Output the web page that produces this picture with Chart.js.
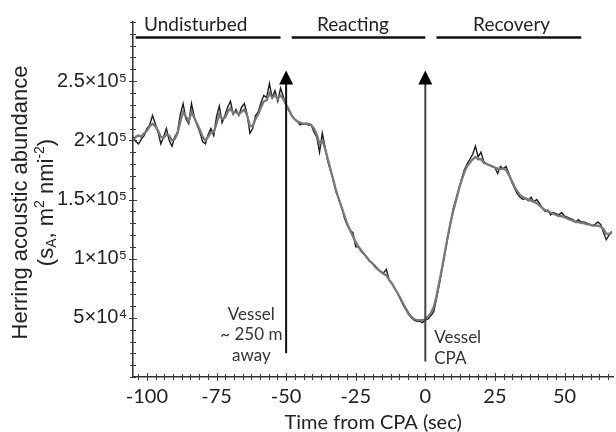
<!DOCTYPE html>
<html><head><meta charset="utf-8">
<script src="https://cdn.jsdelivr.net/npm/chart.js@4.4.1/dist/chart.umd.min.js"></script>
<style>html,body{margin:0;padding:0;background:#fff}#wrap{width:616px;height:432px;position:relative}</style>
</head><body><div id="wrap"><canvas id="c" width="616" height="432"></canvas></div>
<script>
// ---- data (values in thousands of s_A units) ----
const UNIT = 1000;
const times = [
-105,-104,-103,-102,-101,-100,-99,-98,-97,-96,
-95,-94,-93,-92,-91,-90,-89,-88,-87,-86,
-85,-84,-83,-82,-81,-80,-79,-78,-77,-76,
-75,-74,-73,-72,-71,-70,-69,-68,-67,-66,
-65,-64,-63,-62,-61,-60,-59,-58,-57,-56,
-55,-54,-53,-52,-51,-50,-49,-48,-47,-46,
-45,-44,-43,-42,-41,-40,-39,-38,-37,-36,
-35,-34,-33,-32,-31,-30,-29,-28,-27,-26,
-25,-24,-23,-22,-21,-20,-19,-18,-17,-16,
-15,-14,-13,-12,-11,-10,-9,-8,-7,-6,
-5,-4,-3,-2,-1,0,1,2,3,4,
5,6,7,8,9,10,11,12,13,14,
15,16,17,18,19,20,21,22,23,24,
25,26,27,28,29,30,31,32,33,34,
35,36,37,38,39,40,41,42,43,44,
45,46,47,48,49,50,51,52,53,54,
55,56,57,58,59,60,61,62,63,64,
65,66,67];
const rawSeries = [
203,199,197,201,204,210,213,221,214,207,
197,203,210,200,195,203,207,222,231,218,
214,231,220,213,207,199,197,205,210,204,
220,229,215,221,228,233,222,226,221,228,
231,222,206,210,221,224,232,238,236,248,
236,242,233,244,237,229,225,221,218,216,
213,214,214,213,213,207,203,190,206,194,
182,174,166,156,150,143,134,128,124,122,
110,110,106,104,101,98,96,94,91,89,
88,91,82,79,75,71,66,61,57,53,
50,48,47,47,46,48,49,52,55,66,
78,91,104,117,129,142,150,159,167,175,
180,184,188,195,186,190,182,180,179,178,
177,172,178,176,178,172,165,160,155,152,
150,151,149,152,148,150,147,143,140,141,
137,139,138,137,139,136,135,134,133,131,
133,131,131,130,129,128,129,131,129,122,
116,120,123];
const smoothSeries = [
200,203,204,203,206,208,212,214,212,208,
203,202,205,204,200,201,206,216,224,220,
216,224,219,214,209,203,200,203,207,207,
214,222,218,219,224,227,223,224,222,224,
226,221,212,212,218,222,228,233,234,240,
236,238,235,238,235,230,226,221,218,216,
215,214,214,214,213,210,205,197,200,193,
184,175,166,157,150,143,136,129,124,119,
114,110,107,104,101,98,96,93,91,89,
87,86,82,79,75,71,67,62,58,54,
51,49,48,48,48,49,51,54,59,68,
80,92,105,118,130,140,149,158,166,173,
178,181,184,186,184,184,181,180,179,178,
177,176,176,176,175,171,166,161,157,154,
152,151,150,149,148,147,145,143,141,140,
139,138,137,136,136,135,134,133,132,131,
131,130,130,129,129,128,128,128,127,125,
121,121,122];
const xTickValues = [-100,-75,-50,-25,0,25,50];
const xTickLabels = ['-100','-75','-50','-25','0','25','50'];
const yTickValues = [50000,100000,150000,200000,250000];
const yTickLabels = ['5×10⁴','1×10⁵','1.5×10⁵','2×10⁵','2.5×10⁵'];
const phaseLabels = ['Undisturbed','Reacting','Recovery'];
const phaseStart = [-104,-48,4];
const phaseEnd = [-52,0,56];
const phaseLabelAt = [-82.5,-26,31];
const arrowTimes = [-50,0];
const arrowFrom = [20000,13000];
const arrowTo = [259000,259000];
const noteLines = [['Vessel','~ 250 m','away'],['Vessel','CPA']];
const noteAt = [-62.5,3.2];
const noteTop = [53000,33000];

// ---- chart ----
const FONT_T = 'Lato, "Open Sans", sans-serif';
const FONT_A = '"Liberation Sans", Arial, sans-serif';
const toPts = arr => times.map((t,i)=>({x:t,y:arr[i]*UNIT}));

const overlay = {
  id:'overlay',
  afterDraw(chart){
    const {ctx, chartArea:ca, scales:{x,y}} = chart;
    ctx.save();
    ctx.strokeStyle='#3a3a3a'; ctx.lineWidth=1;
    x.ticks.forEach(t=>{
      const px=Math.round(x.getPixelForValue(t.value))+0.5;
      const maj = xTickValues.includes(t.value);
      ctx.beginPath(); ctx.moveTo(px,ca.bottom-(maj?4:3)); ctx.lineTo(px,ca.bottom+(maj?4:3)); ctx.stroke();
    });
    y.ticks.forEach(t=>{
      const py=Math.round(y.getPixelForValue(t.value))+0.5;
      const maj = yTickValues.includes(t.value);
      ctx.beginPath(); ctx.moveTo(ca.left-(maj?4:3),py); ctx.lineTo(ca.left+(maj?4:3),py); ctx.stroke();
    });
    ctx.strokeStyle='#111'; ctx.lineWidth=2.5; ctx.fillStyle='#222';
    ctx.font='19px '+FONT_T; ctx.textAlign='center'; ctx.textBaseline='middle';
    const barY = y.getPixelForValue(287000), txtY = y.getPixelForValue(297500);
    phaseLabels.forEach((lab,i)=>{
      ctx.beginPath(); ctx.moveTo(x.getPixelForValue(phaseStart[i]),barY); ctx.lineTo(x.getPixelForValue(phaseEnd[i]),barY); ctx.stroke();
      ctx.fillText(lab, x.getPixelForValue(phaseLabelAt[i]), txtY);
    });
    arrowTimes.forEach((t,i)=>{
      const px=x.getPixelForValue(t), y0=y.getPixelForValue(arrowFrom[i]), y1=y.getPixelForValue(arrowTo[i]);
      ctx.strokeStyle = i===0?'#111':'#444'; ctx.lineWidth=2;
      ctx.beginPath(); ctx.moveTo(px,y0); ctx.lineTo(px,y1+12); ctx.stroke();
      ctx.fillStyle='#000';
      ctx.beginPath(); ctx.moveTo(px,y1); ctx.lineTo(px-7,y1+14); ctx.lineTo(px+7,y1+14); ctx.closePath(); ctx.fill();
    });
    ctx.fillStyle='#333'; ctx.font='17px '+FONT_T; ctx.textBaseline='middle';
    noteLines.forEach((lines,i)=>{
      ctx.textAlign = i===0?'center':'left';
      const px=x.getPixelForValue(noteAt[i]); const py=y.getPixelForValue(noteTop[i]);
      lines.forEach((l,j)=>ctx.fillText(l,px,py+j*20.5));
    });
    ctx.fillStyle='#222';
    const cy=(ca.top+ca.bottom)/2+3;
    ctx.translate(21,cy); ctx.rotate(-Math.PI/2);
    ctx.textAlign='center'; ctx.textBaseline='middle';
    ctx.font='22px '+FONT_A;
    ctx.fillText('Herring acoustic abundance',0,0);
    const parts=[['(s','n'],['A','sub'],[', m','n'],['2','sup'],[' nmi','n'],['-2','sup'],[')','n']];
    const base=22, small=14;
    let total=0;
    parts.forEach(p=>{ctx.font=(p[1]==='n'?base:small)+'px '+FONT_A; p.w=ctx.measureText(p[0]).width; total+=p.w;});
    let xx=-total/2; ctx.textAlign='left';
    parts.forEach(p=>{
      ctx.font=(p[1]==='n'?base:small)+'px '+FONT_A;
      const dy = p[1]==='sup'?-7:(p[1]==='sub'?5:0);
      ctx.fillText(p[0],xx,26+dy); xx+=p.w;
    });
    ctx.restore();
  }
};

new Chart(document.getElementById('c'),{
  type:'line',
  data:{datasets:[
    {label:'smoothed',data:toPts(smoothSeries),borderColor:'#787878',borderWidth:2.3,pointRadius:0,tension:0,order:0},
    {label:'raw',data:toPts(rawSeries),borderColor:'#1c1c1c',borderWidth:1.4,pointRadius:0,tension:0,order:1}
  ]},
  options:{
    responsive:false, animation:false,
    layout:{padding:{top:22,right:0,left:0,bottom:0}},
    plugins:{legend:{display:false},tooltip:{enabled:false}},
    scales:{
      x:{type:'linear',min:-105,max:67.5,
        afterBuildTicks(s){const a=[];for(let k=-33;k<=21;k++)a.push({value:k*3.125});s.ticks=a;},
        afterFit(s){s.height=55;},
        grid:{display:false,drawTicks:false},
        border:{display:true,color:'#333',width:1.5},
        ticks:{autoSkip:false,maxRotation:0,padding:8,color:'#222',font:{family:FONT_T,size:20},
          callback(v){const i=xTickValues.indexOf(v);return i<0?'':xTickLabels[i];}},
        title:{display:true,text:'Time from CPA (sec)',color:'#222',font:{family:FONT_T,size:20},padding:{top:0,bottom:-3}}
      },
      y:{type:'linear',min:0,max:300000,
        afterBuildTicks(s){const a=[];for(let k=0;k<=30;k++)a.push({value:k*10000});s.ticks=a;},
        afterFit(s){s.width=133;},
        grid:{display:false,drawTicks:false},
        border:{display:true,color:'#333',width:1.5},
        ticks:{autoSkip:false,padding:6,color:'#222',font:{family:FONT_A,size:20},
          callback(v){const i=yTickValues.indexOf(v);return i<0?'':yTickLabels[i];}}
      }
    }
  },
  plugins:[overlay]
});
</script></body></html>
